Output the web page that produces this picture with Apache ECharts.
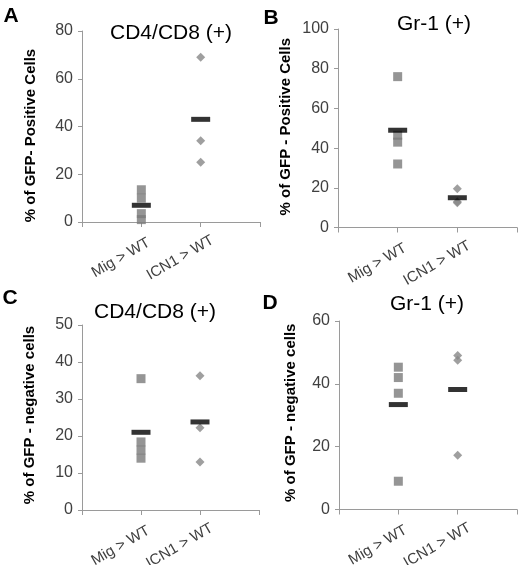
<!DOCTYPE html>
<html><head><meta charset="utf-8">
<script src="https://cdn.jsdelivr.net/npm/echarts@6/dist/echarts.min.js"></script>
<style>html,body{margin:0;padding:0;background:#fff}#c{width:520px;height:565px}</style>
</head><body><div id="c"></div>
<script>
const categories = ['', 'Mig > WT', 'ICN1 > WT', ''];
const titles = ['CD4/CD8 (+)', 'Gr-1 (+)', 'CD4/CD8 (+)', 'Gr-1 (+)'];
const letters = ['A', 'B', 'C', 'D'];
const yNames = ['% of GFP- Positive Cells', '% of GFP - Positive Cells', '% of GFP - negative cells', '% of GFP - negative cells'];
const yMax = [80, 100, 50, 60];
const yStep = [20, 20, 10, 20];
// panel A
const migA = [13.5, 10, 3.5, 1];
const icnA = [69, 34, 25];
const meanA = [7, 43];
// panel B
const migB = [76, 46.5, 43, 32];
const icnB = [19.5, 13, 12.5];
const meanB = [49, 15];
// panel C
const migC = [35.5, 18.4, 16.2, 14];
const icnC = [36.3, 22.2, 13];
const meanC = [21, 23.8];
// panel D
const migD = [45.3, 42, 37, 9];
const icnD = [49, 47.5, 17.3];
const meanD = [33.4, 38.2];

const migAll = [migA, migB, migC, migD];
const icnAll = [icnA, icnB, icnC, icnD];
const meanAll = [meanA, meanB, meanC, meanD];

const grids = [
  {left: 82, top: 31, width: 178, height: 191, outerBoundsMode: 'none', containLabel: false},
  {left: 338, top: 29, width: 179, height: 198.5, outerBoundsMode: 'none', containLabel: false},
  {left: 82, top: 325, width: 177, height: 185, outerBoundsMode: 'none', containLabel: false},
  {left: 339, top: 321, width: 178, height: 188.5, outerBoundsMode: 'none', containLabel: false}
];
const nameGaps = [44, 45, 45, 41];
const namePad = [[0, 18, 0, 0], [0, 0, 0, 3], [0, 0, 0, 5], [0, 0, 0, 5]];
const titlePos = [[171, 33], [434, 24], [155, 312], [427, 304]];
const letterPos = [[11, 16], [271, 18], [10, 298], [270, 303]];

const FONT = 'Liberation Sans, Arial, sans-serif';
const axisCol = '#9a9a9a';
const xAxis = [], yAxis = [], series = [], graphic = [];
for (let i = 0; i < 4; i++) {
  xAxis.push({
    type: 'category', gridIndex: i, data: categories, boundaryGap: false,
    axisLine: {lineStyle: {color: axisCol, width: 1}},
    axisTick: {show: true, length: 5, lineStyle: {color: axisCol}},
    axisLabel: {rotate: 30, margin: 24, align: 'center', padding: [0, 47, 0, 0],
      fontSize: 15, color: '#404040', fontFamily: FONT, interval: 0},
    splitLine: {show: false}
  });
  yAxis.push({
    type: 'value', gridIndex: i, min: 0, max: yMax[i], interval: yStep[i],
    name: yNames[i], nameLocation: 'middle', nameGap: nameGaps[i],
    nameTextStyle: {fontSize: 15, fontWeight: 'bold', color: '#000', fontFamily: FONT, padding: namePad[i]},
    axisLine: {show: true, lineStyle: {color: axisCol, width: 1}},
    axisTick: {show: true, length: 4, lineStyle: {color: axisCol}},
    axisLabel: {fontSize: 16, color: '#404040', fontFamily: FONT, margin: 9},
    splitLine: {show: false}
  });
  series.push({
    type: 'scatter', xAxisIndex: i, yAxisIndex: i, symbol: 'rect', symbolSize: 9,
    itemStyle: {color: '#7a7a7a'}, z: 2,
    data: migAll[i].map(v => [categories[1], v])
  });
  series.push({
    type: 'scatter', xAxisIndex: i, yAxisIndex: i, symbol: 'diamond', symbolSize: 9,
    itemStyle: {color: '#878787'}, z: 2,
    data: icnAll[i].map(v => [categories[2], v])
  });
  series.push({
    type: 'scatter', xAxisIndex: i, yAxisIndex: i, symbol: 'rect', symbolSize: [19, 5],
    itemStyle: {color: '#000'}, z: 3,
    data: meanAll[i].map((v, k) => [categories[k + 1], v])
  });
  graphic.push({
    type: 'text', x: titlePos[i][0], y: titlePos[i][1],
    style: {text: titles[i], font: '21px ' + FONT, fill: '#000', textAlign: 'center', textVerticalAlign: 'middle'}
  });
  graphic.push({
    type: 'text', x: letterPos[i][0], y: letterPos[i][1],
    style: {text: letters[i], font: 'bold 21px ' + FONT, fill: '#000', textAlign: 'center', textVerticalAlign: 'middle'}
  });
}

const chart = echarts.init(document.getElementById('c'), null, {renderer: 'canvas'});
chart.setOption({
  animation: false,
  backgroundColor: '#fff',
  grid: grids,
  xAxis: xAxis,
  yAxis: yAxis,
  series: series,
  graphic: graphic
});
</script>
</body></html>
